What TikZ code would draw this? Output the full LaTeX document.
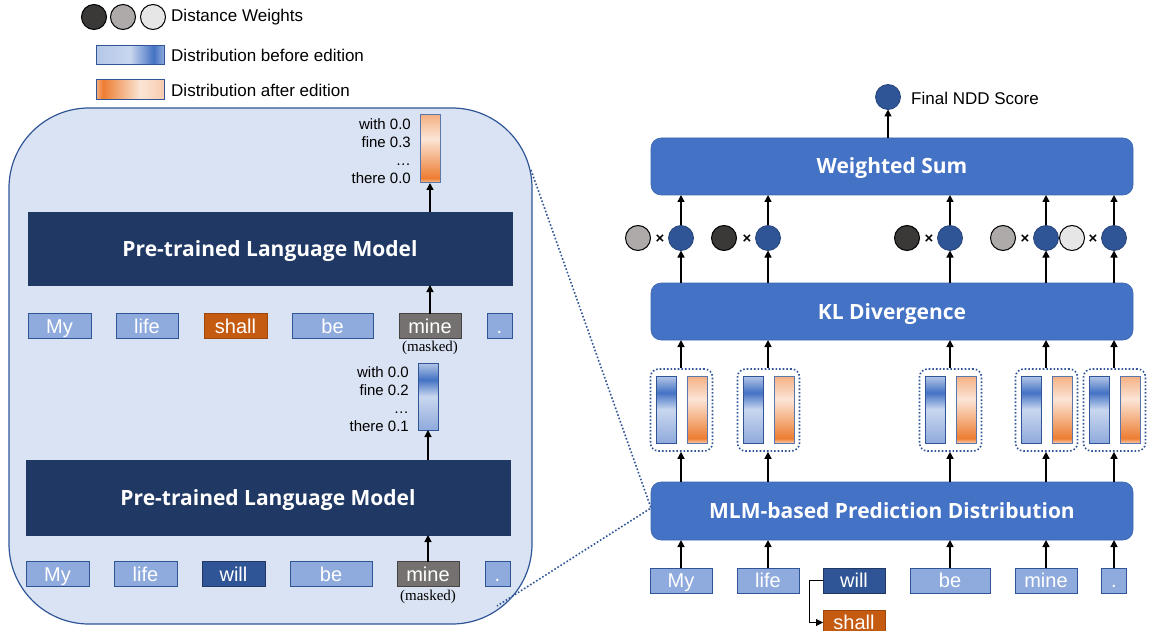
\documentclass[tikz,border=0pt]{standalone}
\usepackage{fontspec}
\setmainfont{Liberation Sans}
\newfontfamily\headfont{Open Sans}
\newfontfamily\seriffont{Liberation Serif}
\usetikzlibrary{arrows.meta}
\definecolor{panelfill}{HTML}{DAE3F3}
\definecolor{panelline}{HTML}{2F5597}
\definecolor{tokfill}{HTML}{8FAADC}
\definecolor{tokline}{HTML}{2F5597}
\definecolor{navy}{HTML}{203864}
\definecolor{midblue}{HTML}{4472C4}
\definecolor{deepblue}{HTML}{2F5597}
\definecolor{shallc}{HTML}{C55A11}
\definecolor{maskc}{HTML}{767171}
\definecolor{wdark}{HTML}{3B3838}
\definecolor{wgray}{HTML}{AEAAAA}
\definecolor{wlight}{HTML}{E7E6E6}
\definecolor{bbot}{HTML}{8FAADC}
\definecolor{blight}{HTML}{C9D7EF}
\definecolor{bdark}{HTML}{4472C4}
\definecolor{btop}{HTML}{B4C7E7}
\definecolor{oend}{HTML}{F8CBAD}
\definecolor{odark}{HTML}{ED7D31}
\definecolor{opale}{HTML}{FBE5D6}
\definecolor{otop}{HTML}{F4B183}
\pgfdeclareverticalshading{bluebar}{100bp}{color(0bp)=(bbot); color(25bp)=(bbot); color(50bp)=(blight); color(62.5bp)=(bdark); color(75bp)=(btop); color(100bp)=(btop)}
\pgfdeclareverticalshading{orangebar}{100bp}{color(0bp)=(oend); color(25bp)=(oend); color(28.5bp)=(odark); color(57.5bp)=(opale); color(75bp)=(otop); color(100bp)=(otop)}
\pgfdeclarehorizontalshading{bluelegend}{100bp}{color(0bp)=(btop); color(25bp)=(btop); color(50bp)=(blight); color(67.5bp)=(bdark); color(75bp)=(bbot); color(100bp)=(bbot)}
\pgfdeclarehorizontalshading{orangelegend}{100bp}{color(0bp)=(otop); color(25bp)=(otop); color(30bp)=(odark); color(57.5bp)=(opale); color(75bp)=(oend); color(100bp)=(oend)}
\tikzset{
  tok/.style={draw=tokline, fill=tokfill, line width=1pt, text=white, inner sep=0pt, outer sep=0pt,
    minimum height=25pt, font=\fontsize{20}{22}\selectfont, text height=16pt, text depth=2pt},
  plm/.style={fill=navy, draw=navy, text=white, inner sep=0pt, outer sep=0pt,
    font=\headfont\bfseries\fontsize{21}{23}\selectfont, text height=17pt, text depth=2pt},
  mbox/.style={fill=midblue, draw=midblue!90!black, line width=0.6pt, rounded corners=10pt, text=white,
    inner sep=0pt, outer sep=0pt, minimum width=482pt, minimum height=57pt,
    font=\headfont\bfseries\fontsize{21}{23}\selectfont, text height=17pt, text depth=2pt},
  bluebarst/.style={draw=tokline, line width=1pt, shading=bluebar, shade, minimum width=20pt, inner sep=0pt, outer sep=0pt},
  orangebarst/.style={draw=tokline!80, line width=1pt, shading=orangebar, shade, minimum width=20pt, inner sep=0pt, outer sep=0pt},
  grp/.style={draw=deepblue, dotted, line width=1.6pt, rounded corners=8pt, minimum width=62pt, minimum height=82pt, inner sep=0pt},
  bcirc/.style={circle, fill=deepblue, draw=deepblue!80!black, line width=0.8pt, minimum size=25pt, inner sep=0pt, outer sep=0pt},
  wcirc/.style={circle, draw=black, line width=1pt, minimum size=25pt, inner sep=0pt, outer sep=0pt},
  arr/.style={line width=1.4pt, -{Triangle[length=7pt,width=7pt]}},
  lbl/.style={font=\fontsize{15}{18.3}\selectfont, inner sep=0pt, align=right},
  legtxt/.style={font=\fontsize{17}{20}\selectfont, inner sep=0pt, anchor=west},
  masked/.style={font=\seriffont\fontsize{15}{17}\selectfont, inner sep=0pt},
  times/.style={font=\bfseries\fontsize{15}{17}\selectfont, inner sep=0pt},
  conn/.style={draw=deepblue, dotted, line width=1.6pt}
}
\begin{document}
\begin{tikzpicture}[x=1pt,y=-1pt]
\useasboundingbox (0,0) rectangle (1151,631);
% legend
\node[wcirc, fill=wdark] (lc1) at (94,17) {};
\node[wcirc, fill=wgray] (lc2) at (123,17) {};
\node[wcirc, fill=wlight] (lc3) at (153,17) {};
\node[legtxt] (lt1) at (171,17) {Distance Weights};
\node[draw=tokline, line width=1pt, shading=bluelegend, shade, minimum width=68pt, minimum height=19pt, inner sep=0pt] (lb) at (130,55.5) {};
\node[legtxt] (lt2) at (171,55.5) {Distribution before edition};
\node[draw=tokline, line width=1pt, shading=orangelegend, shade, minimum width=68pt, minimum height=20pt, inner sep=0pt] (lo) at (130,90) {};
\node[legtxt] (lt3) at (171,90) {Distribution after edition};

% left panel
\draw[fill=panelfill, draw=panelline, line width=1.2pt, rounded corners=80pt] (9,108) rectangle (532,624);
\coordinate (pTR) at (531,170);
\coordinate (pBR) at (497,606);

\node[plm, minimum width=484pt, minimum height=73pt] (plm1) at (270,248.5) {Pre-trained Language Model};
\node[plm, minimum width=484pt, minimum height=75pt] (plm2) at (268,497.5) {Pre-trained Language Model};

\node[orangebarst, minimum height=68pt] (obar) at (430,149) {};
\node[lbl, anchor=north east] (olbl) at (411,118) {with 0.0\\fine 0.3\\…\\there 0.0};
\node[bluebarst, minimum height=67pt] (mbar) at (428,396.5) {};
\node[lbl, anchor=north east] (mlbl) at (409,366) {with 0.0\\fine 0.2\\…\\there 0.1};

% row 1
\node[tok, minimum width=63pt] (a1) at (59.5,326) {My};
\node[tok, minimum width=62pt] (a2) at (147,326) {life};
\node[tok, minimum width=63pt, fill=shallc, draw=shallc!80!black] (a3) at (235.5,326) {shall};
\node[tok, minimum width=81pt] (a4) at (332.5,326) {be};
\node[tok, minimum width=62pt, fill=maskc, draw=maskc!60!black] (a5) at (430,326) {mine};
\node[tok, minimum width=25pt] (a6) at (499.5,326) {.};
\node[masked] (am) at (430,348) {(masked)};
% row 2
\node[tok, minimum width=63pt] (b1) at (57.5,574) {My};
\node[tok, minimum width=63pt] (b2) at (145.5,574) {life};
\node[tok, minimum width=63pt, fill=deepblue, draw=navy] (b3) at (233.5,574) {will};
\node[tok, minimum width=82pt] (b4) at (331,574) {be};
\node[tok, minimum width=62pt, fill=maskc, draw=maskc!60!black] (b5) at (428,574) {mine};
\node[tok, minimum width=25pt] (b6) at (497.5,574) {.};
\node[masked] (bm) at (428,597) {(masked)};

\draw[arr] (plm1.north -| obar.south) -- (obar.south);
\draw[arr] (a5.north) -- (a5.north |- plm1.south);
\draw[arr] (plm2.north -| mbar.south) -- (mbar.south);
\draw[arr] (b5.north) -- (b5.north |- plm2.south);

% right side
\node[mbox] (ws) at (892,166.5) {Weighted Sum};
\node[mbox] (kl) at (892,311.5) {KL Divergence};
\node[mbox, minimum height=58pt] (mlm) at (892,511) {MLM-based Prediction Distribution};
\node[bcirc] (fin) at (888,97) {};
\node[legtxt] (fint) at (911,98) {Final NDD Score};
\draw[arr] (ws.north -| fin.south) -- (fin.south);

\coordinate (joint) at (651,508);
\draw[conn] (pTR) -- (joint) -- (pBR);

% tokens right
\node[tok, minimum width=62pt] (r1) at (681,580.5) {My};
\node[tok, minimum width=62pt] (r2) at (768,580.5) {life};
\node[tok, minimum width=62pt, fill=deepblue, draw=navy] (r3) at (854,580.5) {will};
\node[tok, minimum width=80pt] (r4) at (950,580.5) {be};
\node[tok, minimum width=62pt] (r5) at (1046,580.5) {mine};
\node[tok, minimum width=25pt] (r6) at (1114,580.5) {.};
\node[tok, minimum width=62pt, fill=shallc, draw=shallc!80!black] (r7) at (854,622.5) {shall};
\draw[line width=1pt, -{Triangle[length=7pt,width=7pt]}] (r3.west) -- ++(-14,0) |- (r7.west);

% groups, bars, circles
\foreach \n/\x/\w/\wx in {1/681/wgray/638, 2/768/wdark/724, 3/950/wdark/907, 4/1046/wgray/1003, 5/1114/wlight/1072}{
  \node[grp] (g\n) at (\x+0.5,410) {};
  \node[bluebarst, minimum height=67pt] (gb\n) at (\x-15,409.5) {};
  \node[orangebarst, minimum height=67pt] (go\n) at (\x+16,409.5) {};
  \node[bcirc] (c\n) at (\x,238) {};
  \node[wcirc, fill=\w] (w\n) at (\wx,238) {};
  \node[times] (x\n) at (\x-21,239) {×};
  \draw[arr] (mlm.north -| c\n) -- (g\n.south -| c\n);
  \draw[arr] (g\n.north -| c\n) -- (kl.south -| c\n);
  \draw[arr] (kl.north -| c\n) -- (c\n.south);
  \draw[arr] (c\n.north) -- (ws.south -| c\n);
}
\foreach \t in {1,2,4,5,6}{
  \draw[arr] (r\t.north) -- (r\t.north |- mlm.south);
}
\end{tikzpicture}
\end{document}
